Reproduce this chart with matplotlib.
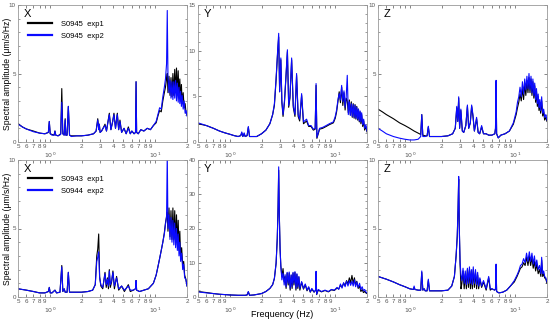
import matplotlib
matplotlib.use('Agg')
import matplotlib.pyplot as plt
from matplotlib.ticker import FixedLocator, MultipleLocator

plt.rcParams['font.family'] = ['Liberation Sans', 'DejaVu Sans']

# -------------------- Data -------------------- #
tx_freq = [0.50, 0.55, 0.60, 0.70, 0.80, 0.90, 0.97, 0.99, 1.01, 1.05,
           1.10, 1.12, 1.14, 1.20, 1.27, 1.30, 1.33, 1.37, 1.40, 1.42,
           1.46, 1.50, 1.54, 1.60, 1.80, 2.00, 2.30, 2.60, 2.75, 2.85,
           2.92, 2.95, 3.00, 3.10, 3.20, 3.34, 3.45, 3.55, 3.67, 3.80,
           3.95, 4.06, 4.20, 4.37, 4.50, 4.63, 4.80, 5.06, 5.30, 5.56,
           5.80, 6.00, 6.30, 6.50, 6.58, 6.66, 6.90, 7.30, 7.80, 8.40,
           9.00, 9.60, 10.2, 10.6, 11.0, 11.4, 11.8, 12.2, 12.5, 12.8,
           13.0, 13.2, 13.5, 13.8, 14.1, 14.4, 14.7, 15.0, 15.3, 15.6,
           15.9, 16.2, 16.5, 16.8, 17.1, 17.4, 17.7, 18.0, 18.4, 18.8,
           19.2, 19.6, 20.0]
tx_exp1 = [1.35, 1.1, 0.95, 0.8, 0.65, 0.6, 0.7, 1.5, 0.6, 0.55,
           0.5, 0.8, 0.5, 0.45, 0.6, 3.9, 0.6, 0.5, 1.7, 0.5,
           0.5, 2.6, 0.5, 0.45, 0.45, 0.45, 0.5, 0.6, 0.8, 1.7,
           0.9, 1.3, 0.7, 0.8, 1.0, 1.3, 0.8, 1.4, 2.1, 0.9,
           1.5, 2.1, 1.0, 2.1, 0.9, 1.6, 0.7, 1.0, 0.6, 1.1,
           0.6, 0.8, 0.6, 0.7, 4.4, 0.7, 0.6, 0.9, 0.8, 1.0,
           0.9, 1.2, 1.4, 1.9, 2.3, 2.2, 3.0, 3.6, 4.0, 4.6,
           5.0, 3.6, 4.8, 3.4, 4.7, 3.3, 5.0, 3.4, 5.3, 3.6,
           5.4, 3.5, 5.2, 3.3, 4.6, 3.0, 4.2, 2.8, 3.6, 2.5,
           2.8, 2.1, 2.0]
tx_exp2 = [1.3, 1.1, 0.95, 0.75, 0.65, 0.6, 0.7, 1.5, 0.6, 0.5,
           0.5, 0.8, 0.5, 0.45, 0.55, 2.9, 0.6, 0.5, 1.6, 0.5,
           0.5, 2.6, 0.5, 0.4, 0.45, 0.45, 0.5, 0.6, 0.8, 1.6,
           0.9, 1.3, 0.7, 0.8, 1.0, 1.2, 0.8, 1.4, 2.0, 0.9,
           1.5, 2.0, 1.0, 2.0, 0.9, 1.5, 0.7, 1.0, 0.6, 1.0,
           0.6, 0.8, 0.6, 0.7, 4.4, 0.7, 0.6, 0.9, 0.8, 1.0,
           0.9, 1.2, 1.5, 2.0, 2.5, 2.4, 3.3, 4.0, 4.6, 5.7,
           9.6, 4.8, 3.6, 4.5, 3.2, 4.4, 3.1, 4.4, 3.2, 4.5,
           3.0, 4.3, 2.9, 4.0, 2.8, 3.7, 2.6, 3.4, 2.4, 3.0,
           2.1, 2.3, 1.9]

ty_freq = [0.50, 0.60, 0.70, 0.80, 0.90, 1.00, 1.10, 1.20, 1.27, 1.30,
           1.33, 1.37, 1.40, 1.46, 1.50, 1.54, 1.60, 1.80, 2.00, 2.20,
           2.40, 2.55, 2.65, 2.75, 2.85, 2.91, 2.97, 3.05, 3.12, 3.20,
           3.30, 3.40, 3.52, 3.62, 3.72, 3.86, 4.00, 4.15, 4.30, 4.45,
           4.60, 4.80, 5.00, 5.35, 5.60, 5.90, 6.20, 6.45, 6.58, 6.70,
           6.90, 7.10, 7.60, 8.20, 8.80, 9.60, 10.0, 10.3, 10.6, 10.9,
           11.2, 11.5, 11.8, 12.1, 12.4, 12.7, 13.0, 13.3, 13.6, 13.9,
           14.2, 14.5, 14.8, 15.1, 15.4, 15.7, 16.0, 16.3, 16.6, 16.9,
           17.2, 17.5, 17.8, 18.2, 18.6, 19.0, 19.5, 20.0]
ty_exp1 = [2.0, 1.8, 1.5, 1.2, 1.0, 0.85, 0.7, 0.6, 0.7, 1.0,
           0.6, 0.9, 0.6, 0.7, 1.6, 0.6, 0.6, 0.6, 0.9, 1.3,
           2.0, 3.0, 4.0, 6.8, 10.0, 11.5, 5.5, 9.0, 4.3, 2.8,
           4.3, 6.8, 9.9, 3.8, 4.8, 9.0, 3.8, 2.8, 7.3, 2.8,
           2.3, 5.1, 2.0, 2.3, 1.7, 1.7, 1.3, 1.4, 6.2, 0.4,
           0.9, 1.4, 1.5, 1.7, 1.9, 2.1, 2.6, 3.3, 4.4, 5.5,
           4.3, 6.0, 4.0, 5.4, 3.5, 4.8, 4.5, 3.2, 4.6, 3.0,
           4.4, 2.7, 4.2, 2.6, 4.1, 2.5, 3.9, 2.4, 3.6, 2.2,
           3.3, 2.0, 3.0, 1.7, 2.3, 1.3, 1.7, 1.1]
ty_exp2 = [2.1, 1.8, 1.5, 1.2, 1.0, 0.85, 0.7, 0.6, 0.7, 1.1,
           0.6, 1.0, 0.6, 0.7, 1.7, 0.6, 0.6, 0.6, 0.9, 1.3,
           2.0, 3.0, 4.2, 7.0, 10.2, 11.9, 5.5, 9.2, 4.5, 3.0,
           4.5, 7.0, 10.1, 4.0, 5.0, 9.2, 4.0, 3.0, 7.5, 3.0,
           2.5, 5.3, 2.2, 2.5, 1.8, 1.8, 1.4, 1.5, 6.4, 0.5,
           1.0, 1.5, 1.6, 1.8, 2.0, 2.2, 2.8, 3.5, 4.6, 5.3,
           4.6, 6.2, 4.4, 5.6, 3.8, 5.0, 7.3, 3.0, 4.4, 2.9,
           4.2, 2.8, 4.1, 2.7, 4.0, 2.6, 3.8, 2.5, 3.6, 2.3,
           3.4, 2.2, 3.2, 1.9, 2.5, 1.5, 1.9, 1.2]

tz_freq = [0.50, 0.55, 0.60, 0.70, 0.80, 0.90, 1.00, 1.10, 1.20, 1.27,
           1.30, 1.33, 1.40, 1.46, 1.50, 1.54, 1.60, 1.80, 2.00, 2.30,
           2.55, 2.70, 2.79, 2.85, 2.91, 2.97, 3.05, 3.15, 3.25, 3.40,
           3.52, 3.62, 3.75, 3.86, 3.97, 4.10, 4.30, 4.45, 4.60, 4.80,
           5.00, 5.30, 5.60, 6.00, 6.40, 6.50, 6.58, 6.66, 6.90, 7.30,
           8.00, 8.80, 9.60, 10.2, 10.5, 10.8, 11.1, 11.4, 11.7, 12.0,
           12.3, 12.6, 12.9, 13.2, 13.5, 13.8, 14.1, 14.4, 14.7, 15.0,
           15.3, 15.6, 15.9, 16.2, 16.5, 16.8, 17.1, 17.4, 17.8, 18.2,
           18.6, 19.0, 19.5, 20.0]
tz_exp1 = [2.4, 2.2, 2.0, 1.7, 1.4, 1.2, 1.0, 0.8, 0.65, 0.55,
           2.0, 0.5, 0.45, 0.45, 1.1, 0.4, 0.4, 0.4, 0.4, 0.45,
           0.6, 1.0, 2.5, 1.5, 3.2, 1.0, 2.3, 0.8, 0.7, 1.2,
           2.6, 1.0, 1.4, 2.6, 1.9, 0.8, 1.7, 0.7, 0.6, 1.1,
           0.6, 0.6, 0.5, 0.5, 0.6, 1.0, 4.4, 0.6, 0.3, 0.5,
           0.6, 0.8, 1.3, 2.0, 2.5, 2.9, 3.5, 3.0, 3.9, 3.1,
           4.2, 3.4, 4.5, 3.6, 4.7, 3.6, 4.6, 3.4, 4.4, 3.2,
           4.1, 2.9, 3.7, 2.6, 3.3, 2.3, 2.9, 2.1, 3.0, 1.9,
           2.2, 1.6, 1.8, 1.5]
tz_exp2 = [1.0, 0.8, 0.6, 0.4, 0.28, 0.2, 0.15, 0.15, 0.2, 0.4,
           2.0, 0.4, 0.4, 0.45, 1.15, 0.4, 0.4, 0.4, 0.4, 0.45,
           0.6, 1.0, 2.6, 1.5, 3.3, 1.0, 2.4, 0.8, 0.7, 1.2,
           2.7, 1.0, 1.4, 2.7, 2.0, 0.8, 1.8, 0.7, 0.6, 1.2,
           0.6, 0.6, 0.5, 0.5, 0.6, 1.0, 4.5, 0.6, 0.3, 0.5,
           0.6, 0.8, 1.4, 2.2, 2.9, 3.3, 4.0, 3.3, 4.4, 3.5,
           4.6, 3.8, 4.8, 3.9, 5.0, 3.8, 4.8, 3.6, 4.6, 3.4,
           4.3, 3.1, 3.9, 2.8, 3.5, 2.5, 3.1, 2.3, 3.3, 2.1,
           2.4, 1.8, 2.0, 1.6]

bx_freq = [0.50, 0.60, 0.70, 0.80, 0.90, 0.97, 0.99, 1.01, 1.05, 1.12,
           1.16, 1.25, 1.30, 1.33, 1.37, 1.40, 1.46, 1.50, 1.54, 1.60,
           1.80, 2.00, 2.30, 2.55, 2.70, 2.79, 2.85, 2.91, 2.97, 3.05,
           3.18, 3.34, 3.43, 3.52, 3.60, 3.67, 3.75, 3.86, 3.97, 4.10,
           4.30, 4.50, 4.80, 5.10, 5.56, 5.80, 6.20, 6.50, 6.58, 6.66,
           7.10, 7.80, 8.60, 9.60, 10.2, 10.6, 11.0, 11.4, 11.8, 12.2,
           12.5, 12.8, 13.0, 13.2, 13.5, 13.8, 14.1, 14.4, 14.7, 15.0,
           15.3, 15.6, 15.9, 16.2, 16.5, 16.8, 17.1, 17.4, 17.8, 18.2,
           18.6, 19.0, 19.5, 20.0]
bx_exp1 = [0.6, 0.5, 0.4, 0.3, 0.3, 0.4, 0.7, 0.3, 0.3, 0.5,
           0.3, 0.35, 2.3, 0.4, 0.6, 0.35, 0.35, 1.8, 0.35, 0.35,
           0.35, 0.35, 0.4, 0.5, 0.9, 3.0, 3.5, 4.6, 1.5, 0.8,
           0.6, 1.8, 0.7, 1.4, 0.6, 2.0, 0.7, 1.1, 1.9, 0.6,
           1.5, 0.5, 0.8, 0.4, 0.9, 0.4, 0.5, 0.6, 1.2, 0.5,
           0.4, 0.5, 0.6, 1.0, 1.6, 2.2, 2.8, 3.4, 4.0, 4.7,
           5.4, 5.9, 6.2, 4.8, 6.5, 4.4, 6.3, 4.2, 6.5, 4.2,
           6.3, 4.0, 6.0, 3.8, 5.6, 3.4, 4.8, 3.0, 3.6, 2.3,
           2.6, 1.6, 1.3, 0.8]
bx_exp2 = [0.6, 0.5, 0.4, 0.3, 0.3, 0.4, 0.7, 0.3, 0.3, 0.5,
           0.3, 0.35, 2.2, 0.4, 0.6, 0.35, 0.35, 1.8, 0.35, 0.35,
           0.35, 0.35, 0.4, 0.5, 0.9, 2.6, 2.9, 3.3, 1.4, 0.9,
           0.7, 1.7, 0.9, 1.3, 0.8, 1.9, 0.9, 1.2, 1.8, 0.8,
           1.4, 0.6, 0.8, 0.5, 0.8, 0.5, 0.5, 0.6, 1.2, 0.5,
           0.4, 0.5, 0.6, 1.0, 1.6, 2.2, 2.8, 3.4, 4.0, 4.6,
           5.3, 5.8, 10.5, 5.0, 6.0, 4.2, 5.8, 4.0, 5.6, 3.8,
           5.4, 3.6, 5.0, 3.4, 4.6, 3.0, 4.0, 2.6, 3.2, 2.0,
           2.4, 1.4, 1.3, 0.8]

by_freq = [0.50, 0.60, 0.70, 0.80, 0.90, 1.00, 1.20, 1.40, 1.46, 1.50,
           1.54, 1.70, 2.00, 2.20, 2.40, 2.55, 2.65, 2.75, 2.82, 2.87,
           2.91, 2.95, 3.00, 3.05, 3.12, 3.20, 3.28, 3.35, 3.42, 3.50,
           3.58, 3.66, 3.74, 3.82, 3.90, 3.98, 4.06, 4.15, 4.24, 4.33,
           4.42, 4.52, 4.62, 4.80, 5.00, 5.20, 5.40, 5.60, 5.80, 6.00,
           6.30, 6.50, 6.58, 6.66, 6.90, 7.40, 8.00, 8.60, 9.20, 9.80,
           10.4, 10.8, 11.2, 11.6, 12.0, 12.4, 12.8, 13.2, 13.6, 14.0,
           14.4, 14.8, 15.2, 15.6, 16.0, 16.5, 17.0, 17.5, 18.0, 18.5,
           19.0, 19.5, 20.0]
by_exp1 = [1.6, 1.3, 1.0, 0.8, 0.7, 0.6, 0.5, 0.5, 0.6, 1.5,
           0.5, 0.6, 1.0, 1.6, 2.5, 3.6, 5.4, 9.8, 17, 26,
           37, 24, 14, 9, 6, 8.3, 4.5, 6.0, 2.5, 7.0,
           3.5, 7.0, 2.0, 6.3, 2.5, 7.0, 3.5, 7.2, 2.0, 6.6,
           2.5, 5.8, 2.0, 4.3, 2.3, 3.6, 1.8, 2.8, 1.4, 2.3,
           1.4, 1.9, 7.3, 0.7, 2.0, 1.5, 1.9, 1.5, 2.1, 1.9,
           2.6, 2.4, 3.4, 2.9, 4.0, 3.4, 4.8, 3.8, 5.6, 4.2,
           6.3, 4.0, 5.6, 3.4, 4.6, 2.5, 3.2, 1.6, 2.2, 1.3,
           1.6, 1.2, 1.0]
by_exp2 = [1.5, 1.2, 1.0, 0.8, 0.7, 0.6, 0.5, 0.5, 0.6, 1.6,
           0.5, 0.6, 1.0, 1.6, 2.5, 3.6, 5.5, 10, 17, 26,
           38, 24, 14, 9, 5, 7, 3.5, 6.5, 3, 7.2,
           4, 7.3, 2.5, 6.5, 3, 7.2, 4, 7.4, 2.5, 6.8,
           3, 6, 2.5, 4.5, 2.5, 3.8, 2.0, 3.0, 1.5, 2.5,
           1.5, 2.0, 7.5, 0.8, 2.2, 1.6, 2.0, 1.6, 2.2, 2.0,
           2.8, 2.2, 3.8, 2.6, 4.2, 3.0, 4.6, 3.2, 4.8, 3.4,
           4.6, 3.2, 5.0, 3.0, 4.4, 2.8, 4.0, 2.2, 3.0, 1.8,
           2.2, 1.5, 1.2]

bz_freq = [0.50, 0.60, 0.70, 0.80, 0.90, 1.00, 1.08, 1.10, 1.12, 1.20,
           1.27, 1.30, 1.33, 1.37, 1.40, 1.46, 1.50, 1.54, 1.60, 1.80,
           2.00, 2.30, 2.50, 2.65, 2.75, 2.82, 2.87, 2.91, 2.95, 3.00,
           3.06, 3.12, 3.20, 3.28, 3.36, 3.44, 3.52, 3.60, 3.68, 3.76,
           3.84, 3.92, 4.00, 4.10, 4.20, 4.30, 4.40, 4.50, 4.62, 4.80,
           5.00, 5.30, 5.60, 5.80, 6.00, 6.40, 6.50, 6.58, 6.66, 7.00,
           7.60, 8.30, 9.00, 9.80, 10.4, 10.8, 11.2, 11.6, 12.0, 12.4,
           12.8, 13.2, 13.6, 14.0, 14.4, 14.8, 15.2, 15.6, 16.0, 16.5,
           17.0, 17.5, 17.8, 18.2, 18.6, 19.0, 19.5, 20.0]
bz_exp1 = [1.5, 1.3, 1.1, 0.9, 0.75, 0.6, 0.55, 0.7, 0.55, 0.5,
           0.5, 1.8, 0.5, 0.6, 0.45, 0.45, 1.2, 0.45, 0.45, 0.45,
           0.45, 0.5, 0.8, 1.5, 3.0, 4.4, 6.4, 8.6, 5.0, 2.4,
           0.6, 1.0, 1.9, 0.6, 1.7, 0.6, 2.0, 0.7, 2.0, 0.6,
           1.9, 0.6, 2.0, 0.7, 1.8, 0.6, 1.6, 0.6, 1.3, 0.7,
           1.1, 0.5, 1.4, 0.5, 0.6, 0.5, 0.6, 2.3, 0.4, 0.3,
           0.35, 0.5, 0.8, 1.1, 1.5, 1.8, 2.1, 2.2, 2.5, 2.3,
           2.9, 2.3, 3.0, 2.3, 2.9, 2.1, 2.6, 1.9, 2.4, 1.7,
           2.0, 1.5, 2.7, 1.5, 1.7, 1.4, 1.3, 1.0]
bz_exp2 = [1.5, 1.3, 1.1, 0.9, 0.75, 0.6, 0.55, 0.8, 0.55, 0.5,
           0.5, 1.9, 0.5, 0.6, 0.45, 0.45, 1.3, 0.45, 0.45, 0.45,
           0.45, 0.5, 0.8, 1.5, 3.0, 4.5, 6.5, 8.8, 5.0, 2.5,
           1.6, 1.2, 2.1, 1.0, 1.9, 0.9, 2.1, 1.0, 2.2, 1.0,
           2.0, 0.9, 2.2, 1.0, 2.0, 0.9, 1.8, 0.8, 1.4, 0.8,
           1.2, 0.6, 1.5, 0.6, 0.6, 0.5, 0.6, 2.4, 0.4, 0.3,
           0.35, 0.5, 0.8, 1.2, 1.6, 1.9, 2.3, 2.4, 2.8, 2.5,
           3.2, 2.6, 3.3, 2.6, 3.2, 2.4, 3.0, 2.2, 2.7, 2.0,
           2.3, 1.7, 2.9, 1.7, 1.9, 1.5, 1.4, 1.1]

top_labels = ['S0945  exp1', 'S0945  exp2']
bottom_labels = ['S0943  exp1', 'S0944  exp2']

xtick_pos = [0.5, 0.6, 0.7, 0.8, 0.9, 1, 2, 3, 4, 5, 6, 7, 8, 9, 10, 20]
xtick_lbl = ['5', '6', '7', '8', '9', '', '2', '3', '4', '5',
             '6', '7', '8', '9', '', '2']
decades = [1, 10]
decade_lbl = ['$10^0$', '$10^1$']

# ------------------------------ Plot ---------------------------------- #
W, H = 550, 323
fig = plt.figure(figsize=(W / 100, H / 100), dpi=100)

col_x = [18, 198, 378]
row_y = [5, 160]
ax_w, ax_h = 169, 137

panels = [
    (0, 0, 'X', tx_freq, tx_exp1, tx_exp2, 10, 5, 1),
    (0, 1, 'Y', ty_freq, ty_exp1, ty_exp2, 15, 5, 1),
    (0, 2, 'Z', tz_freq, tz_exp1, tz_exp2, 10, 5, 1),
    (1, 0, 'X', bx_freq, bx_exp1, bx_exp2, 10, 5, 1),
    (1, 1, 'Y', by_freq, by_exp1, by_exp2, 40, 10, 2),
    (1, 2, 'Z', bz_freq, bz_exp1, bz_exp2, 10, 5, 1),
]

for row, col, comp, f, a1, a2, ymax, ymaj, ymin in panels:
    ax = fig.add_axes([col_x[col] / W, 1 - (row_y[row] + ax_h) / H, ax_w / W, ax_h / H])
    labels = top_labels if row == 0 else bottom_labels
    ax.plot(f, a1, color='black', lw=0.8, label=labels[0])
    ax.plot(f, a2, color='#0a0aff', lw=0.8, label=labels[1])
    ax.set_xscale('log')
    ax.set_xlim(0.5, 20)
    ax.set_ylim(0, ymax)
    ax.xaxis.set_major_locator(FixedLocator(xtick_pos))
    ax.xaxis.set_minor_locator(FixedLocator([]))
    ax.set_xticklabels(xtick_lbl)
    ax.yaxis.set_major_locator(MultipleLocator(ymaj))
    ax.yaxis.set_minor_locator(MultipleLocator(ymin))
    ax.tick_params(which='both', direction='in', top=True, right=True,
                   labelsize=4.5, colors='#555555', pad=1.5)
    ax.tick_params(which='major', length=2.5, width=0.5)
    ax.tick_params(which='minor', length=1.3, width=0.4)
    for s in ax.spines.values():
        s.set_color('#999999')
        s.set_linewidth(0.6)
    for d, dl in zip(decades, decade_lbl):
        ax.text(d, -0.065, dl, transform=ax.get_xaxis_transform(),
                fontsize=4.5, color='#555555', ha='center', va='top')
    ax.text(0.035, 0.97, comp, transform=ax.transAxes, fontsize=8,
            va='top', ha='left')
    if col == 0:
        leg = ax.legend(loc='upper left', bbox_to_anchor=(0.04, 0.91),
                        frameon=False, fontsize=5.5, handlelength=3.2,
                        handletextpad=1.2, labelspacing=0.6, borderaxespad=0)
        for ln in leg.get_lines():
            ln.set_linewidth(1.6)
        fig.text(7.5 / W, 1 - (row_y[row] + ax_h / 2) / H,
                 'Spectral amplitude (μm/s/Hz)', fontsize=6.2,
                 rotation=90, ha='center', va='center')
    if row == 1 and col == 1:
        ax.set_xlabel('Frequency (Hz)', fontsize=6.5, labelpad=4)

fig.savefig('out.png', dpi=100)
